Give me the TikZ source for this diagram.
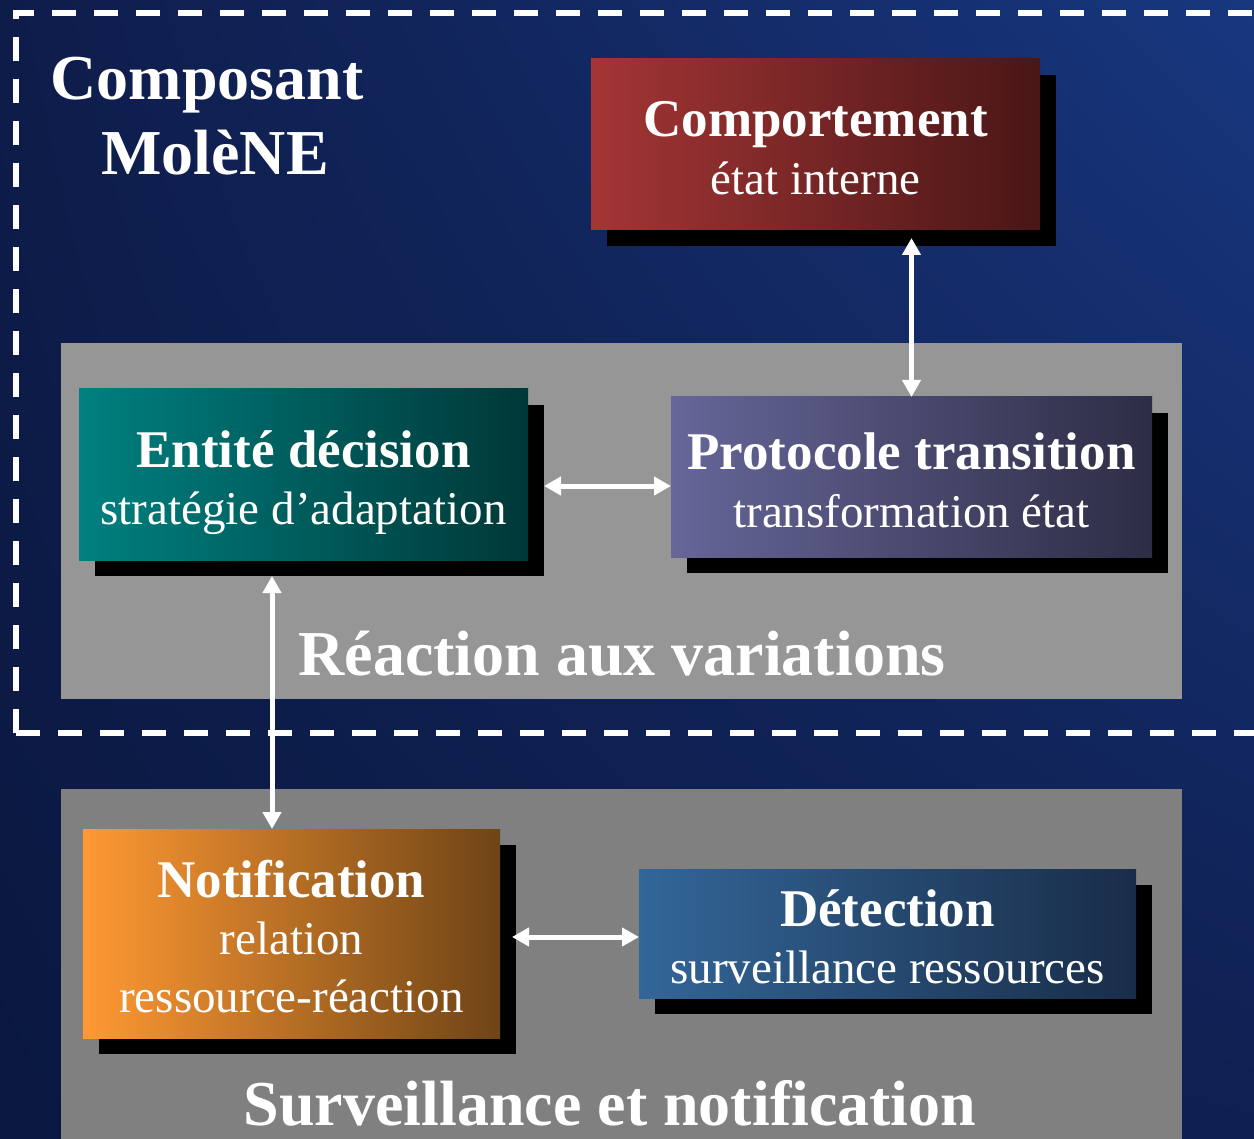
\documentclass[tikz,border=0pt]{standalone}
\usepackage{fontspec}
\setmainfont{Liberation Serif}
\usetikzlibrary{arrows.meta,shadows,shadings,calc}
\definecolor{bgUL}{HTML}{0E1C4A}
\definecolor{bgUR}{HTML}{18377F}
\definecolor{bgLL}{HTML}{0A1840}
\definecolor{bgLR}{HTML}{0F1F50}
\definecolor{panelA}{HTML}{969696}
\definecolor{panelB}{HTML}{808080}
\definecolor{compL}{HTML}{A43535}
\definecolor{compR}{HTML}{4A1616}
\definecolor{entL}{HTML}{008080}
\definecolor{entR}{HTML}{003838}
\definecolor{protL}{HTML}{666699}
\definecolor{protR}{HTML}{2D2D45}
\definecolor{notL}{HTML}{FF9933}
\definecolor{notR}{HTML}{6E4416}
\definecolor{detL}{HTML}{336699}
\definecolor{detR}{HTML}{192D48}
\newcommand\titlefont{\fontsize{32}{37.5}\selectfont\bfseries}
\newcommand\boldline{\fontsize{26.5}{28.75}\selectfont\bfseries}
\newcommand\plainline{\fontsize{23.5}{28.75}\selectfont}
\begin{document}
\begin{tikzpicture}[x=0.5pt,y=-0.5pt,
  shbox/.style={inner sep=0pt, outer sep=0pt, anchor=north west, align=center,
    text=white, font=\plainline, text height=50pt, text depth=0pt,
    general shadow={fill=black, shadow xshift=8pt, shadow yshift=-8pt}},
  ttl/.style={text=white, font=\titlefont, anchor=base, inner sep=0pt},
  dbl/.style={draw=white, line width=2.5pt,
    {Triangle[width=9pt,length=8.5pt]}-{Triangle[width=9pt,length=8.5pt]}},
  frame/.style={draw=white, line width=3pt, dash pattern=on 12pt off 9pt}
]
\useasboundingbox (0,0) rectangle (1254,1139);
\shade[upper left=bgUL, upper right=bgUR, lower left=bgLL, lower right=bgLR]
  (0,0) rectangle (1254,1139);
% panels
\fill[panelA] (61,343) rectangle (1182,699);
\fill[panelB] (61,789) rectangle (1182,1139);
% dashed frame
\draw[frame] (16,733) -- (16,13) -- (1300,13);
\draw[frame] (16,733) -- (1300,733);
% titles
\node[ttl] (t1) at (207,100) {Composant};
\node[ttl] (t2) at (215,175) {MolèNE};
\node[ttl] (t3) at (622,675) {Réaction aux variations};
\node[ttl] (t4) at (610,1125) {Surveillance et notification};
% boxes
\node[shbox, left color=compL, right color=compR,
  minimum width=224.5pt, minimum height=85.5pt] (comp) at (591,59)
  {{\boldline Comportement}\\état interne};
\node[shbox, left color=entL, right color=entR,
  minimum width=224.5pt, minimum height=85.5pt] (ent) at (79,389)
  {{\boldline Entité décision}\\stratégie d’adaptation};
\node[shbox, left color=protL, right color=protR,
  minimum width=240.5pt, minimum height=80pt] (prot) at (671,397)
  {{\boldline Protocole transition}\\transformation état};
\node[shbox, left color=notL, right color=notR, text height=78.5pt,
  minimum width=208.5pt, minimum height=104.5pt] (notif) at (83,829)
  {{\boldline Notification}\\relation\\ressource-réaction};
\node[shbox, left color=detL, right color=detR,
  minimum width=248.5pt, minimum height=64.5pt] (det) at (639,869)
  {{\boldline Détection}\\surveillance ressources};
% connector end points
\coordinate (a1s) at ([yshift=-4pt]comp.south -| prot.north);
\coordinate (a2s) at ([xshift=8pt,yshift=-5.75pt]ent.east);
\coordinate (a3s) at ([xshift=-15.75pt,yshift=-8pt]ent.south);
\coordinate (a4s) at ([xshift=6pt,yshift=-1.75pt]notif.east);
% connectors
\draw[dbl] (a1s) -- (prot.north);
\draw[dbl] (a2s) -- (a2s -| prot.west);
\draw[dbl] (a3s) -- (a3s |- notif.north);
\draw[dbl] (a4s) -- (a4s -| det.west);
\end{tikzpicture}
\end{document}
